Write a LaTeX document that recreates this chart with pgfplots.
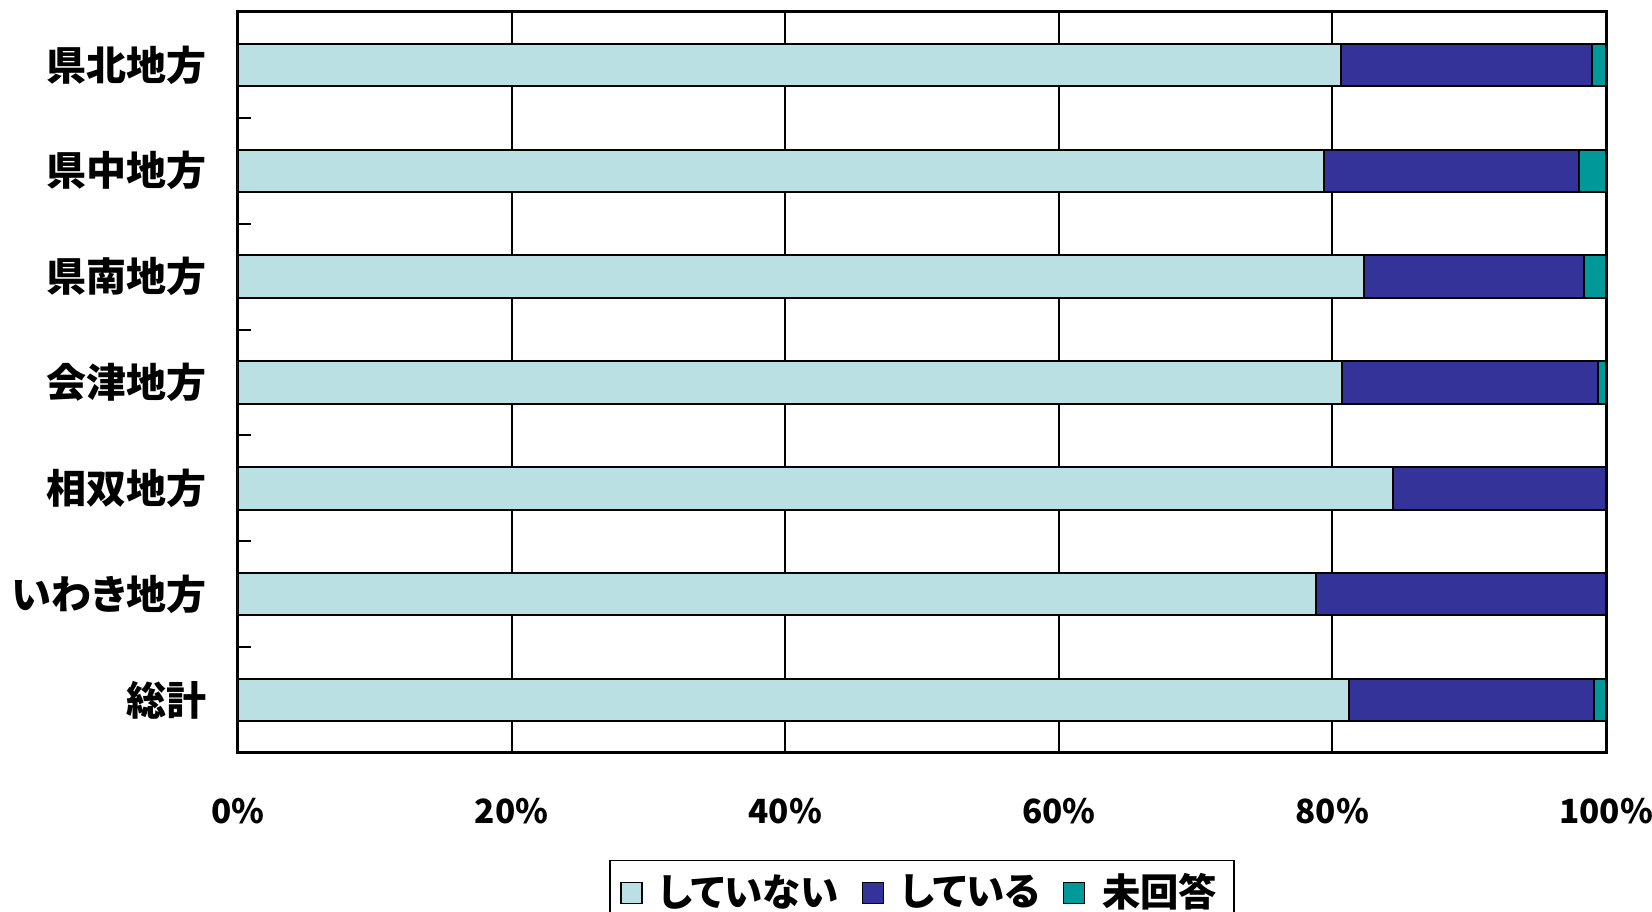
\documentclass[border=0pt]{standalone}
\usepackage{pgfplots}
\pgfplotsset{compat=1.18}
\usepackage{fontspec}
\setmainfont{Noto Sans CJK JP}[RawFeature=+palt]
\definecolor{lightc}{HTML}{BBE0E3}
\definecolor{darkc}{HTML}{333399}
\definecolor{tealc}{HTML}{009999}

\begin{document}
\begin{tikzpicture}
\begin{axis}[
  name=main,
  xbar stacked,
  width=410.4pt, height=222.3pt, scale only axis,
  xmin=0, xmax=100,
  ymin=-0.5, ymax=6.5, y dir=reverse,
  bar width=0.4,
  ytick={0,...,6},
  yticklabels={県北地方,県中地方,県南地方,会津地方,相双地方,いわき地方,総計},
  minor ytick={0.5,1.5,...,5.5},
  ytick pos=left,
  major tick length=0pt,
  minor tick length=4pt,
  xtick={0,20,...,100},
  xticklabels={0\%,20\%,40\%,60\%,80\%,100\%},
  xtick pos=bottom,
  xmajorgrids,
  major grid style={black, line width=0.6pt},
  axis line style={line width=0.9pt},
  minor tick style={line width=0.6pt, black},
  yticklabel style={font=\bfseries\fontsize{12}{14}\selectfont, xshift=-6pt},
  xticklabel style={font=\bfseries\fontsize{10}{12}\selectfont, yshift=-10pt},
  legend columns=3,
  legend style={at={(0.5,0)}, anchor=north, yshift=-32pt, draw=black,
    line width=0.5pt, font=\bfseries\fontsize{11.5}{14}\selectfont,
    /tikz/every odd column/.append style={column sep=3pt},
    /tikz/every even column/.append style={column sep=5pt}},
  legend image code/.code={\draw[#1, line width=0.4pt] (0pt,-3.15pt) rectangle (6.3pt,3.15pt);},
]
% していない
\addplot[fill=lightc, draw=black, line width=0.6pt] coordinates {
  (80.6,0) (79.4,1) (82.3,2) (80.7,3) (84.4,4) (78.8,5) (81.2,6)};
% している
\addplot[fill=darkc, draw=black, line width=0.6pt] coordinates {
  (18.4,0) (18.6,1) (16.1,2) (18.7,3) (15.6,4) (21.2,5) (17.9,6)};
% 未回答
\addplot[fill=tealc, draw=black, line width=0.6pt] coordinates {
  (1.0,0) (2.0,1) (1.6,2) (0.6,3) (0,4) (0,5) (0.9,6)};
\legend{していない,している,未回答}
\end{axis}
\pgfresetboundingbox
\path[use as bounding box] ([xshift=-71.4pt,yshift=-47.7pt]main.south west)
  rectangle ([xshift=13.8pt,yshift=3.6pt]main.north east);
\end{tikzpicture}
\end{document}
